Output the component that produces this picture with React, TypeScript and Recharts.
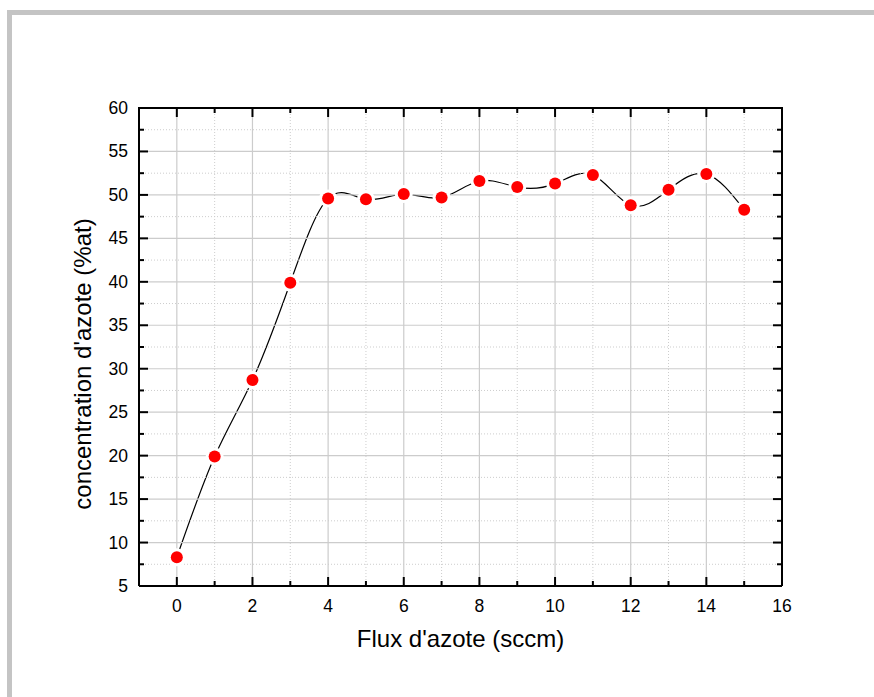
import { LineChart, Line, XAxis, YAxis, ReferenceLine } from 'recharts'

const flux = [0, 1, 2, 3, 4, 5, 6, 7, 8, 9, 10, 11, 12, 13, 14, 15]
const azote = [8.3, 19.9, 28.7, 39.9, 49.6, 49.5, 50.1, 49.7, 51.6, 50.9, 51.3, 52.3, 48.8, 50.6, 52.4, 48.3]

const xTicks = [0, 1, 2, 3, 4, 5, 6, 7, 8, 9, 10, 11, 12, 13, 14, 15, 16]
const yTicks = [5, 7.5, 10, 12.5, 15, 17.5, 20, 22.5, 25, 27.5, 30, 32.5, 35, 37.5, 40, 42.5, 45, 47.5, 50, 52.5, 55, 57.5, 60]
const xMajorGrid = [0, 2, 4, 6, 8, 10, 12, 14]
const xMinorGrid = [1, 3, 5, 7, 9, 11, 13, 15]
const yMajorGrid = [10, 15, 20, 25, 30, 35, 40, 45, 50, 55]
const yMinorGrid = [7.5, 12.5, 17.5, 22.5, 27.5, 32.5, 37.5, 42.5, 47.5, 52.5, 57.5]

const data = flux.map((f, i) => ({ flux: f, azote: azote[i] }))

const FONT = '"Liberation Sans", Arial, sans-serif'
const MAJOR = 9
const MINOR = 5

// chart box and plot size (plot = chart minus margins and axis boxes)
const W = 874
const H = 697
const MARGIN = { top: 108, right: 91, bottom: 41, left: 79 }
const LEFT_W = 60
const RIGHT_W = 1
const BOTTOM_H = 70
const PLOT_W = W - MARGIN.left - MARGIN.right - LEFT_W - RIGHT_W
const PLOT_H = H - MARGIN.top - MARGIN.bottom - BOTTOM_H

const isMajorX = (v: number) => v % 2 === 0
const isMajorY = (v: number) => v % 5 === 0

// bottom axis tick also draws the mirrored tick on the top frame
function BottomTick({ x, y, payload }: any) {
  const major = isMajorX(payload.value)
  const len = major ? MAJOR : MINOR
  const top = y - PLOT_H
  return (
    <g>
      <line x1={x} y1={y} x2={x} y2={y - len} stroke="#000" strokeWidth={2} />
      <line x1={x} y1={top} x2={x} y2={top + len} stroke="#000" strokeWidth={2} />
      {major && (
        <text x={x} y={y + 26} textAnchor="middle" fontSize={17.5} fontFamily={FONT} fill="#000">
          {payload.value}
        </text>
      )}
    </g>
  )
}

// the top frame line comes from the 60 tick
function LeftTick({ x, y, payload }: any) {
  const major = isMajorY(payload.value)
  return (
    <g>
      <line x1={x} y1={y} x2={x + (major ? MAJOR : MINOR)} y2={y} stroke="#000" strokeWidth={2} />
      {payload.value === 60 && <line x1={x - 1} y1={y} x2={x + PLOT_W + 1} y2={y} stroke="#000" strokeWidth={2} />}
      {major && (
        <text x={x - 11} y={y + 6} textAnchor="end" fontSize={17.5} fontFamily={FONT} fill="#000">
          {payload.value}
        </text>
      )}
    </g>
  )
}

function RightTick({ x, y, payload }: any) {
  const major = isMajorY(payload.value)
  return <line x1={x} y1={y} x2={x - (major ? MAJOR : MINOR)} y2={y} stroke="#000" strokeWidth={2} />
}

function YTitle({ viewBox }: any) {
  const cx = viewBox.x + 3
  const cy = viewBox.y + viewBox.height / 2 + 17
  return (
    <text
      x={cx}
      y={cy}
      transform={`rotate(-90 ${cx} ${cy})`}
      textAnchor="middle"
      dominantBaseline="central"
      fontSize={24}
      fontFamily={FONT}
      fill="#000"
    >
      concentration d'azote (%at)
    </text>
  )
}

const axisLine = { stroke: '#000', strokeWidth: 2 }

function gridLines() {
  return [
    ...xMinorGrid.map((v) => (
      <ReferenceLine key={`xm${v}`} x={v} stroke="#cdcdcd" strokeDasharray="1 2" strokeWidth={1} />
    )),
    ...yMinorGrid.map((v) => (
      <ReferenceLine key={`ym${v}`} y={v} stroke="#cdcdcd" strokeDasharray="1 2" strokeWidth={1} />
    )),
    ...xMajorGrid.map((v) => <ReferenceLine key={`xM${v}`} x={v} stroke="#cccccc" strokeWidth={1.2} />),
    ...yMajorGrid.map((v) => <ReferenceLine key={`yM${v}`} y={v} stroke="#cccccc" strokeWidth={1.2} />),
  ]
}

export default function App() {
  return (
    <div
      style={{
        position: 'absolute',
        left: 0,
        top: 0,
        width: W,
        height: H,
        background: '#fff',
        overflow: 'hidden',
      }}
    >
      <div
        style={{
          position: 'absolute',
          left: 7,
          top: 10,
          right: 0,
          bottom: 0,
          borderTop: '5px solid #c4c4c4',
          borderLeft: '5px solid #c4c4c4',
        }}
      />
      <div style={{ position: 'absolute', left: 0, top: 0 }}>
        <LineChart width={W} height={H} data={data} margin={MARGIN}>
          <XAxis
            dataKey="flux"
            type="number"
            domain={[-1, 16]}
            ticks={xTicks}
            interval={0}
            allowDataOverflow
            height={BOTTOM_H}
            tickSize={0}
            tickMargin={0}
            tickLine={false}
            axisLine={axisLine}
            tick={<BottomTick />}
            label={{
              value: 'Flux d\'azote (sccm)',
              position: 'insideBottom',
              offset: 9,
              fontSize: 24,
              fontFamily: FONT,
              fill: '#000',
            }}
          />
          <YAxis
            type="number"
            domain={[5, 60]}
            ticks={yTicks}
            interval={0}
            allowDataOverflow
            width={LEFT_W}
            tickSize={0}
            tickMargin={0}
            tickLine={false}
            axisLine={axisLine}
            tick={<LeftTick />}
            label={{ content: <YTitle /> }}
          />
          <YAxis
            yAxisId="y2"
            orientation="right"
            type="number"
            domain={[5, 60]}
            ticks={yTicks}
            interval={0}
            allowDataOverflow
            width={RIGHT_W}
            tickSize={0}
            tickMargin={0}
            tickLine={false}
            axisLine={axisLine}
            tick={<RightTick />}
          />
          <Line
            type="natural"
            dataKey="azote"
            stroke="#000"
            strokeWidth={1.2}
            dot={{ r: 9, fill: '#fff', stroke: 'none' }}
            activeDot={false}
            isAnimationActive={false}
          />
          {gridLines()}
          <Line
            yAxisId="y2"
            type="natural"
            dataKey="azote"
            stroke="none"
            dot={{ r: 6, fill: '#ff0000', stroke: 'none' }}
            activeDot={false}
            isAnimationActive={false}
          />
        </LineChart>
      </div>
    </div>
  )
}
